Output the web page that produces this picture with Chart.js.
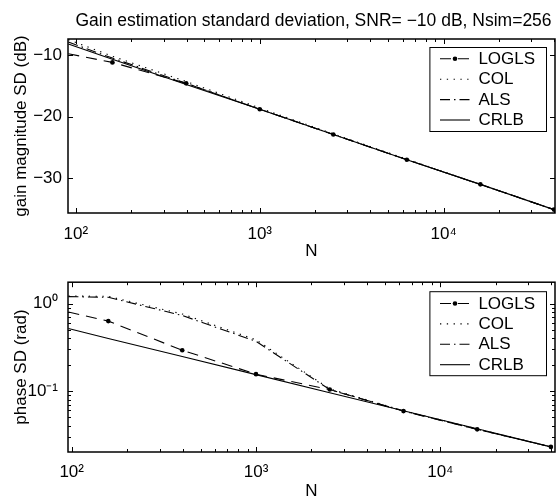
<!DOCTYPE html>
<html><head><meta charset="utf-8">
<script src="https://cdn.jsdelivr.net/npm/chart.js@4"></script>
<style>
html,body{margin:0;padding:0;background:#fff;overflow:hidden;width:559px;height:499px}
.wrap{position:absolute;left:0;width:559px}
</style></head><body>
<div class="wrap" style="top:0;height:262px"><canvas id="c1" width="559" height="262"></canvas></div>
<div class="wrap" style="top:262px;height:240px"><canvas id="c2" width="559" height="240"></canvas></div>
<script>
// ---------------- data ----------------
const TITLE = 'Gain estimation standard deviation, SNR= \u221210 dB, Nsim=256';
const SERIES = ['LOGLS', 'COL', 'ALS', 'CRLB'];

// top panel: gain magnitude SD (dB)
const N_GAIN = [91, 158, 398, 1000, 2512, 6310, 15849, 39811];
const GAIN_LOGLS = [-9.8, -11.2, -14.6, -18.8, -22.9, -27.0, -31.0, -35.1];
const GAIN_COL   = [-7.5, -10.2, -14.3, -18.6, -22.8, -26.9, -31.0, -35.1];
const GAIN_ALS   = [-7.9, -10.5, -14.6, -18.8, -22.9, -27.0, -31.0, -35.1];
const GAIN_CRLB  = [-8.2, -10.7, -14.8, -18.8, -22.9, -27.0, -31.0, -35.1];
const GAIN_TICKS = [-30, -20, -10];
const GAIN_TICK_LABELS = ['\u221230', '\u221220', '\u221210'];

// bottom panel: phase SD (rad)
const N_PHASE = [96, 158, 398, 1000, 2512, 6310, 15849, 39811];
const PHASE_LOGLS = [0.80, 0.63, 0.293, 0.156, 0.104, 0.059, 0.0365, 0.023];
const PHASE_COL   = [1.22, 1.21, 0.76, 0.385, 0.106, 0.0595, 0.037, 0.023];
const PHASE_ALS   = [1.20, 1.18, 0.73, 0.37, 0.104, 0.059, 0.0365, 0.023];
const PHASE_CRLB  = [0.518, 0.398, 0.248, 0.154, 0.0958, 0.0596, 0.037, 0.023];
const PHASE_TICKS = [0.1, 1];
const PHASE_TICK_LABELS = ['10\u207B\u00B9', '10\u2070'];

const N_TICKS = [100, 1000, 10000];
const N_TICK_LABELS = ['10\u00B2', '10\u00B3', '10\u2074'];

// ---------------- styles ----------------
const FONT = {family: "'Liberation Sans', Arial, Helvetica, sans-serif", size: 17};
const FONT_CSS = "17px 'Liberation Sans', Arial, Helvetica, sans-serif";
const TITLE_FONT_CSS = "17.5px 'Liberation Sans', Arial, Helvetica, sans-serif";
const DASH = {LOGLS: [11, 7], COL: [1.3, 5.5], ALS: [10, 4, 1.5, 4], CRLB: []};

function pts(xs, ys) { return xs.map((x, i) => ({x: x, y: ys[i]})); }

function datasets(xs, series) {
  return SERIES.map((name, k) => ({
    label: name,
    data: pts(xs, series[k]),
    borderColor: '#000',
    backgroundColor: '#000',
    borderWidth: 1.1,
    borderDash: DASH[name],
    tension: 0,
    fill: false,
    pointRadius: name === 'LOGLS' ? (c => c.dataIndex === 0 ? 0 : 2.3) : 0,
    pointBorderWidth: 0,
    pointBackgroundColor: '#000',
    order: 3 - k
  }));
}

function minorValues(min, max) {
  const out = [];
  for (let d = Math.floor(Math.log10(min)); d <= Math.ceil(Math.log10(max)); d++) {
    for (let m = 2; m <= 9; m++) {
      const v = m * Math.pow(10, d);
      if (v >= min && v <= max) out.push(v);
    }
  }
  return out;
}

const decor = {
  id: 'decor',
  afterDraw(chart, args, o) {
    const {ctx, chartArea: a, scales} = chart;
    const xs = scales.x, ys = scales.y;
    ctx.save();
    ctx.strokeStyle = '#000';
    ctx.lineWidth = 1;
    ctx.setLineDash([]);
    ctx.beginPath();
    const xMaj = o.xMajor, xMin = minorValues(xs.min, xs.max);
    const tickX = (vals, len) => vals.forEach(v => {
      const px = Math.round(xs.getPixelForValue(v)) + 0.5;
      ctx.moveTo(px, a.bottom); ctx.lineTo(px, a.bottom - len);
      ctx.moveTo(px, a.top); ctx.lineTo(px, a.top + len);
    });
    tickX(xMaj, 5); tickX(xMin, 3);
    const tickY = (vals, len) => vals.forEach(v => {
      const py = Math.round(ys.getPixelForValue(v)) + 0.5;
      ctx.moveTo(a.left, py); ctx.lineTo(a.left + len, py);
      ctx.moveTo(a.right, py); ctx.lineTo(a.right - len, py);
    });
    tickY(o.yMajor, 5);
    if (o.yLog) tickY(minorValues(ys.min, ys.max), 3);
    ctx.stroke();
    // frame
    ctx.lineWidth = 1.5;
    ctx.strokeRect(a.left, a.top, a.right - a.left, a.bottom - a.top);
    // title
    if (o.title) {
      ctx.fillStyle = '#000';
      ctx.font = TITLE_FONT_CSS;
      ctx.textAlign = 'center';
      ctx.textBaseline = 'alphabetic';
      ctx.fillText(o.title, (a.left + a.right) / 2 + 2, o.titleY);
    }
    // legend
    const bw = 116.6, bh = 84;
    const bx = a.right - 9 - bw, by = a.top + o.legendTop;
    ctx.fillStyle = '#fff';
    ctx.fillRect(bx, by, bw, bh);
    ctx.lineWidth = 1;
    ctx.strokeStyle = '#000';
    ctx.strokeRect(bx + 0.5, by + 0.5, bw, bh);
    chart.data.datasets.forEach((ds, i) => {
      const y = by + o.rowFirst + i * 20.4;
      ctx.save();
      ctx.lineWidth = 1.1;
      ctx.setLineDash(ds.borderDash || []);
      ctx.beginPath();
      ctx.moveTo(bx + 10.6, y); ctx.lineTo(bx + 40.6, y);
      ctx.stroke();
      ctx.restore();
      if (ds.label === 'LOGLS') {
        ctx.fillStyle = '#000';
        ctx.beginPath(); ctx.arc(bx + 25.6, y, 2.3, 0, Math.PI * 2); ctx.fill();
      }
      ctx.fillStyle = '#000';
      ctx.font = FONT_CSS;
      ctx.textAlign = 'left';
      ctx.textBaseline = 'middle';
      ctx.fillText(ds.label, bx + 49, y + 0.5);
    });
    ctx.restore();
  }
};

function makeChart(id, cfg) {
  return new Chart(document.getElementById(id), {
    type: 'line',
    data: {datasets: datasets(cfg.xs, cfg.series)},
    options: {
      responsive: false,
      animation: false,
      devicePixelRatio: 1,
      layout: {padding: {left: 0, right: 1, top: cfg.padTop, bottom: 0}},
      plugins: {
        legend: {display: false},
        tooltip: {enabled: false},
        decor: cfg.decor
      },
      scales: {
        x: {
          type: 'logarithmic',
          min: cfg.xmin, max: cfg.xmax,
          afterBuildTicks: s => { s.ticks = N_TICKS.map(v => ({value: v})); },
          afterFit: s => { s.height = cfg.xHeight; },
          ticks: {callback: (v, i) => N_TICK_LABELS[i], padding: cfg.xTickPad, maxRotation: 0, autoSkip: false, font: FONT, color: '#000'},
          grid: {display: false, drawTicks: false},
          border: {display: false},
          title: {display: true, text: 'N', font: FONT, color: '#000', padding: {top: 0, bottom: cfg.xTitlePad}}
        },
        y: {
          type: cfg.yType,
          min: cfg.ymin, max: cfg.ymax,
          afterBuildTicks: s => { s.ticks = cfg.yTicks.map(v => ({value: v})); },
          afterFit: s => { s.width = 68; },
          ticks: {callback: (v, i) => cfg.yTickLabels[i], padding: cfg.yTickPad, autoSkip: false, font: FONT, color: '#000'},
          grid: {display: false, drawTicks: false},
          border: {display: false},
          title: {display: true, text: cfg.yTitle, font: FONT, color: '#000', padding: {top: 11, bottom: 0}}
        }
      }
    },
    plugins: [decor]
  });
}

makeChart('c1', {
  xs: N_GAIN,
  series: [GAIN_LOGLS, GAIN_COL, GAIN_ALS, GAIN_CRLB],
  xmin: 90.6, xmax: 40350,
  ymin: -35.65, ymax: -7.4,
  yType: 'linear',
  yTicks: GAIN_TICKS, yTickLabels: GAIN_TICK_LABELS,
  yTitle: 'gain magnitude SD (dB)',
  padTop: 39, xHeight: 49, xTickPad: 11, xTitlePad: 0, yTickPad: 6,
  decor: {xMajor: N_TICKS, yMajor: GAIN_TICKS, yLog: false, title: TITLE, titleY: 26, legendTop: 8, rowFirst: 11.8}
});

makeChart('c2', {
  xs: N_PHASE,
  series: [PHASE_LOGLS, PHASE_COL, PHASE_ALS, PHASE_CRLB],
  xmin: 95.5, xmax: 41900,
  ymin: 0.0201, ymax: 1.755,
  yType: 'logarithmic',
  yTicks: PHASE_TICKS, yTickLabels: PHASE_TICK_LABELS,
  yTitle: 'phase SD (rad)',
  padTop: 15, xHeight: 50, xTickPad: 10, xTitlePad: 0, yTickPad: 10,
  decor: {xMajor: N_TICKS, yMajor: PHASE_TICKS, yLog: true, title: null, titleY: 0, legendTop: 9, rowFirst: 12.3}
});
</script>
</body></html>
